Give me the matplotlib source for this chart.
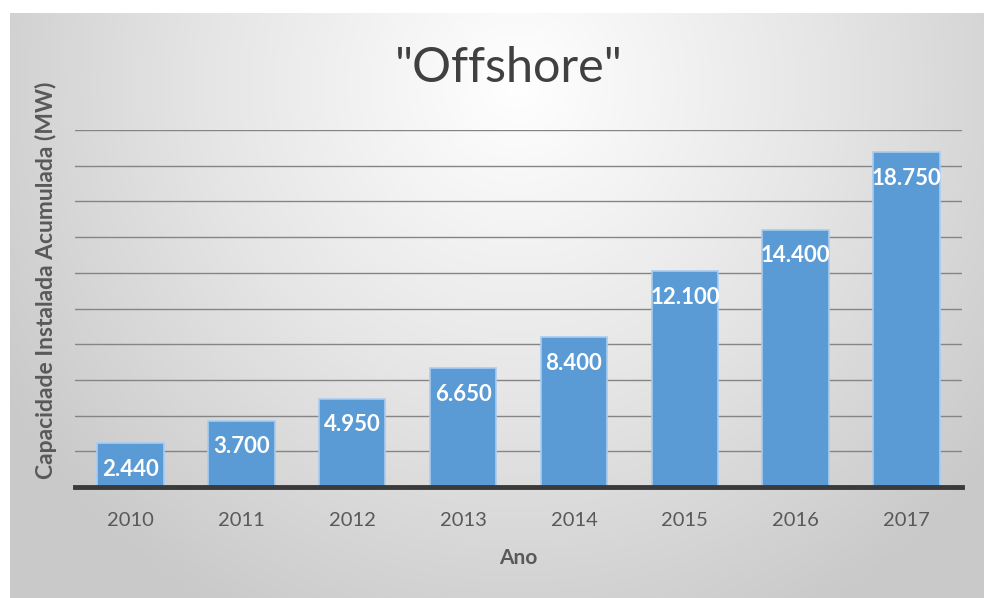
import numpy as np
import matplotlib.pyplot as plt
from matplotlib.colors import LinearSegmentedColormap

plt.rcParams['font.family'] = ['Lato', 'DejaVu Sans']

# potência offshore acumulada por ano
anos = ["2010", "2011", "2012", "2013", "2014", "2015", "2016", "2017"]
capacidade = [2440, 3700, 4950, 6650, 8400, 12100, 14400, 18750]
rotulos = ["2.440", "3.700", "4.950", "6.650", "8.400", "12.100", "14.400", "18.750"]

fig = plt.figure(figsize=(9.84, 5.98), dpi=100)
fig.patch.set_facecolor("white")

# fundo com gradiente radial (claro no topo, cinza nas bordas)
bg = fig.add_axes([10 / 984, 0, 1 - 10 / 984, 1 - 13 / 598], zorder=-1)
h, w = 300, 500
yy, xx = np.mgrid[0:h, 0:w]
cx, cy = w * 0.52, h * 0.12
d = np.sqrt(((xx - cx) / (w * 0.62)) ** 2 + ((yy - cy) / (h * 1.05)) ** 2)
d = np.clip(d, 0, 1)
cmap = LinearSegmentedColormap.from_list("bg", ["#ffffff", "#e6e6e6", "#c9c9c9"])
bg.imshow(d, cmap=cmap, vmin=0, vmax=1, aspect="auto", interpolation="bilinear")
bg.axis("off")

ax = fig.add_axes([75 / 984, 1 - 487 / 598, (962 - 75) / 984, (487 - 130) / 598])
ax.patch.set_alpha(0)

x = np.arange(len(anos))
bars = ax.bar(x, capacidade, width=0.6, color="#5b9bd5", edgecolor="#a9cdf0",
              linewidth=1.2, zorder=3)

for xi, v, txt in zip(x, capacidade, rotulos):
    ax.annotate(txt, (xi, v), xytext=(0, -26), textcoords="offset pixels",
                ha="center", va="center", color="white", fontsize=16,
                fontweight="bold", zorder=4)

ax.set_xlim(-0.5, len(anos) - 0.5)
ax.set_ylim(0, 20000)
ax.set_yticks(np.arange(0, 20001, 2000))
ax.yaxis.grid(True, color="#858585", linewidth=1.0, zorder=0)
ax.tick_params(axis="y", length=0, labelleft=False)
ax.tick_params(axis="x", length=0, pad=18, labelsize=14.5, labelcolor="#595959")
ax.set_xticks(x)
ax.set_xticklabels(anos)

for s in ["top", "right", "left"]:
    ax.spines[s].set_visible(False)
ax.spines["bottom"].set_color("#3a3a3a")
ax.spines["bottom"].set_linewidth(3.5)
ax.spines["bottom"].set_zorder(5)

ax.set_xlabel("Ano", fontsize=15, fontweight="bold", color="#595959", labelpad=14)
ax.set_ylabel("Capacidade Instalada Acumulada (MW)", fontsize=16.5,
              fontweight="bold", color="#595959")
ax.yaxis.set_label_coords(-18 / 887, 0.58)

fig.text(509 / 984, 1 - 68 / 598, "\"Offshore\"", ha="center", va="center",
         fontsize=35, color="#404040")

fig.savefig("out.png", dpi=100)
